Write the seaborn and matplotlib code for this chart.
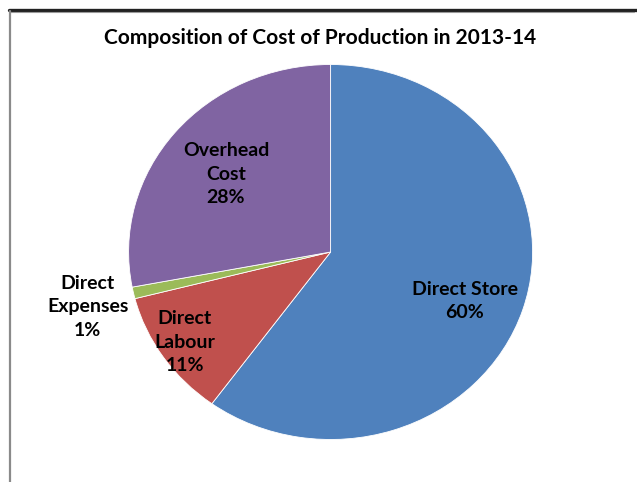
import matplotlib
matplotlib.use("Agg")
import matplotlib.pyplot as plt
from matplotlib.lines import Line2D
import seaborn as sns

# Cost components, in the order they are drawn clockwise from 12 o'clock
categories = ["Direct Store", "Direct Labour", "Direct Expenses", "Overhead Cost"]
label_text = ["Direct Store", "Direct\nLabour", "Direct\nExpenses", "Overhead\nCost"]
shares = [60, 11, 1, 28]
colors = ["#4F81BD", "#C0504D", "#9BBB59", "#8064A2"]
title = "Composition of Cost of Production in 2013-14"

# Where each data label sits, in pie units (radius = 1)
label_pos = [(0.665, -0.262), (-0.721, -0.48), (-1.203, -0.293), (-0.518, 0.416)]

sns.set_theme(style="white")
plt.rcParams["font.family"] = ["Lato", "DejaVu Sans"]

W, H = 637, 482
fig = plt.figure(figsize=(W / 100, H / 100), dpi=100)
fig.patch.set_facecolor("white")

# Pie is drawn slightly wider than tall
cx, cy, rx, ry = 330.6, 252.0, 202.0, 187.5
ax = fig.add_axes([(cx - rx) / W, (H - cy - ry) / H, 2 * rx / W, 2 * ry / H])

wedges, texts = ax.pie(
    shares,
    labels=[f"{t}\n{v}%" for t, v in zip(label_text, shares)],
    colors=colors,
    startangle=90,
    counterclock=False,
    wedgeprops=dict(edgecolor="white", linewidth=0.6),
    textprops=dict(fontsize=14, fontweight="bold", color="black"),
)
for t, (x, y) in zip(texts, label_pos):
    t.set_position((x, y))
    t.set_ha("center")
    t.set_va("center")
    t.set_multialignment("center")
    t.set_linespacing(1.45)

ax.set_aspect("auto")
ax.set_xlim(-1, 1)
ax.set_ylim(-1, 1)
ax.set_axis_off()

fig.text(320 / W, 1 - 38 / H, title, ha="center", va="center",
         fontsize=15, fontweight="bold", color="black")

# Chart-area frame: dark top rule and grey left rule
fig.add_artist(Line2D([9 / W, 1.0], [1 - 10 / H, 1 - 10 / H], color="#222222", lw=2.4))
fig.add_artist(Line2D([9 / W, 634 / W], [1 - 12 / H, 1 - 12 / H], color="#9a9a9a", lw=0.8))
fig.add_artist(Line2D([9.5 / W, 9.5 / W], [0, 1 - 11 / H], color="#8a8a8a", lw=1.6))

fig.savefig("out.png", dpi=100, facecolor="white")
